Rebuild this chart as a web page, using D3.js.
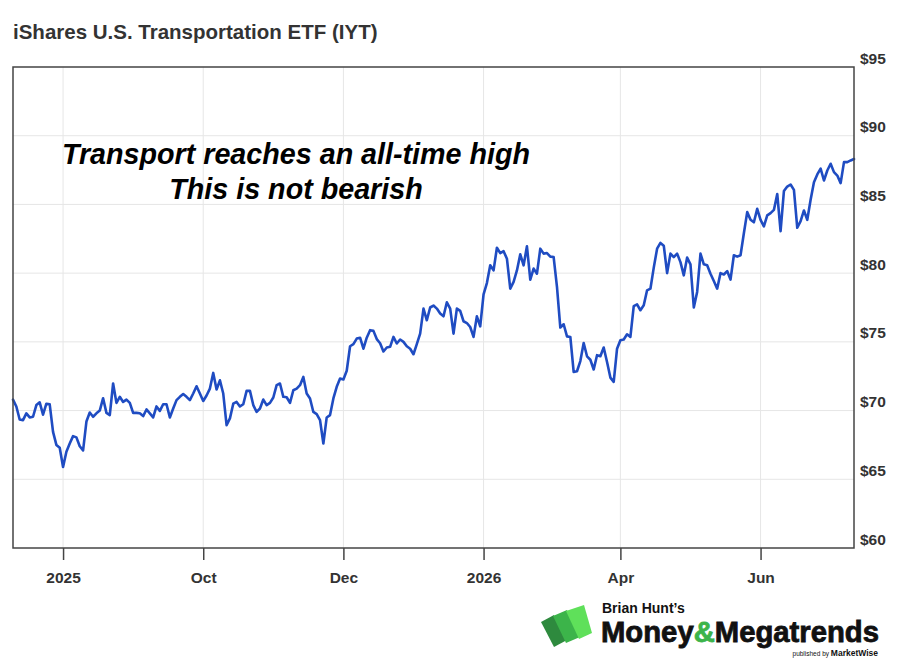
<!DOCTYPE html>
<html>
<head>
<meta charset="utf-8">
<script src="https://cdn.jsdelivr.net/npm/d3@7"></script>
<style>
  html, body { margin: 0; padding: 0; background: #fff; }
  svg { display: block; }
</style>
</head>
<body>
<svg id="chart" width="900" height="664"></svg>
<script>
// ---- Data (daily closes) ----
const title = "iShares U.S. Transportation ETF (IYT)";
const annotationLines = ["Transport reaches an all-time high", "This is not bearish"];
const prices = [
  70.8, 70.3, 69.35, 69.3, 69.8, 69.5, 69.55, 70.4, 70.6, 69.7,
  70.5, 70.45, 68.45, 67.5, 67.3, 65.9, 67.0, 67.6, 68.14, 68.05,
  67.4, 67.1, 69.2, 69.86, 69.55, 69.8, 70.0, 70.9, 69.83, 69.67,
  71.97, 70.56, 71.0, 70.63, 70.8, 70.56, 69.83, 69.83, 69.8, 69.6,
  70.08, 69.8, 69.5, 70.3, 69.98, 70.46, 70.46, 69.5, 70.15, 70.76,
  71.0, 71.2, 71.0, 70.76, 71.24, 71.77, 71.24, 70.7, 71.1, 71.6,
  72.74, 71.53, 72.2, 71.24, 68.94, 69.43, 70.5, 70.63, 70.3, 70.46,
  71.43, 71.43, 70.4, 69.9, 70.15, 70.8, 70.4, 70.56, 70.95, 71.85,
  71.97, 71.0, 70.97, 70.56, 71.48, 71.6, 71.85, 72.45, 71.24, 70.88,
  69.9, 69.74, 69.3, 67.6, 69.5, 69.67, 70.88, 71.73, 72.33, 72.26,
  72.9, 74.68, 74.83, 75.24, 75.3, 74.5, 75.3, 75.85, 75.8, 75.2,
  74.9, 74.3, 74.59, 74.64, 75.36, 74.88, 75.17, 75.0, 74.68, 74.5,
  74.1, 74.83, 75.6, 77.42, 76.57, 77.5, 77.64, 77.42, 77.06, 76.86,
  77.88, 77.42, 75.6, 77.42, 77.25, 76.5, 76.37, 76.08, 75.36, 76.86,
  76.13, 78.46, 79.28, 80.57, 80.2, 81.85, 81.46, 81.6, 81.05, 78.87,
  79.36, 80.2, 81.37, 80.57, 81.95, 79.53, 80.33, 79.96, 81.78, 81.42,
  81.46, 81.2, 81.17, 79.0, 76.04, 76.28, 75.4, 75.36, 72.81, 72.86,
  73.6, 74.92, 73.95, 73.7, 72.99, 74.03, 73.95, 74.59, 73.54, 72.4,
  72.09, 74.5, 75.12, 75.17, 75.55, 75.36, 77.6, 77.73, 77.3, 77.66,
  78.75, 78.87, 80.4, 81.78, 82.2, 82.0, 80.0, 81.42, 81.17, 81.42,
  80.8, 79.84, 81.13, 80.64, 77.5, 78.63, 81.42, 80.64, 80.57, 79.96,
  79.43, 78.87, 80.0, 79.9, 80.15, 79.53, 81.3, 81.2, 81.3, 82.9,
  84.44, 83.88, 83.7, 84.68, 83.88, 83.4, 84.2, 84.37, 84.6, 85.76,
  83.06, 85.97, 86.3, 86.45, 86.06, 83.3, 83.79, 84.56, 83.88, 85.34,
  86.62, 87.18, 87.6, 86.74, 87.47, 87.96, 87.35, 87.1, 86.55, 88.08,
  88.08, 88.2, 88.3
];
const xTickIndex = [15, 57, 99, 141, 182, 224];
const xTickLabels = ["2025", "Oct", "Dec", "2026", "Apr", "Jun"];
const yTicks = [60, 65, 70, 75, 80, 85, 90, 95];
const logoSmall = "Brian Hunt\u2019s";
const logoWord1 = "Money";
const logoAmp = "&";
const logoWord2 = "Megatrends";

// ---- Layout ----
const svg = d3.select("#chart");
const plotLeft = 13, plotRight = 854, plotTop = 67, plotBottom = 548;
const font = "'Liberation Sans', Arial, Helvetica, sans-serif";

const x = d3.scaleLinear().domain([0, prices.length - 1]).range([plotLeft, plotRight]);
const y = d3.scaleLinear().domain([60, 95]).range([plotBottom, plotTop]);

// Title
svg.append("text")
  .attr("x", 13).attr("y", 39)
  .attr("font-family", font).attr("font-weight", "bold")
  .attr("font-size", 20.5).attr("fill", "#333")
  .text(title);

// Gridlines
const grid = svg.append("g");
grid.selectAll("line.h").data(yTicks.filter(d => d > 60 && d < 95)).join("line")
  .attr("class", "h")
  .attr("x1", plotLeft).attr("x2", plotRight)
  .attr("y1", d => y(d)).attr("y2", d => y(d))
  .attr("stroke", "#e6e6e6").attr("stroke-width", 1);
grid.selectAll("line.v").data(xTickIndex).join("line")
  .attr("class", "v")
  .attr("x1", d => x(d)).attr("x2", d => x(d))
  .attr("y1", plotTop).attr("y2", plotBottom)
  .attr("stroke", "#e6e6e6").attr("stroke-width", 1);

// Annotation
const ann = svg.append("text")
  .attr("font-family", font).attr("font-weight", "bold").attr("font-style", "italic")
  .attr("font-size", 28.7).attr("fill", "#000").attr("text-anchor", "middle");
annotationLines.forEach((t, i) => {
  ann.append("tspan").attr("x", 296).attr("y", 164 + i * 35).text(t);
});

// Line
const line = d3.line().x((d, i) => x(i)).y(d => y(d));
svg.append("path")
  .datum(prices)
  .attr("d", line)
  .attr("fill", "none")
  .attr("stroke", "#1f4cc2")
  .attr("stroke-width", 2.6)
  .attr("stroke-linejoin", "round")
  .attr("stroke-linecap", "round");

// Frame
svg.append("rect")
  .attr("x", plotLeft).attr("y", plotTop)
  .attr("width", plotRight - plotLeft).attr("height", plotBottom - plotTop)
  .attr("fill", "none").attr("stroke", "#444").attr("stroke-width", 1.5);

// X axis
const xAxis = d3.axisBottom(x)
  .tickValues(xTickIndex)
  .tickFormat((d, i) => xTickLabels[i])
  .tickSize(12).tickPadding(12);
const gx = svg.append("g").attr("transform", `translate(0,${plotBottom})`).call(xAxis);
gx.select(".domain").remove();
gx.selectAll(".tick line").attr("stroke", "#444").attr("stroke-width", 1.5);
gx.selectAll(".tick text")
  .attr("font-family", font).attr("font-weight", "bold")
  .attr("font-size", 15.5).attr("fill", "#333");

// Y axis (right)
const yAxis = d3.axisRight(y).tickValues(yTicks).tickFormat(d => "$" + d).tickSize(0).tickPadding(6);
const gy = svg.append("g").attr("transform", `translate(${plotRight},0)`).call(yAxis);
gy.select(".domain").remove();
gy.selectAll(".tick text")
  .attr("font-family", font).attr("font-weight", "bold")
  .attr("font-size", 15.5).attr("fill", "#333")
  .attr("dy", "-0.25em");

// Logo
const logo = svg.append("g");
const barShapes = [
  {pts: [[541,622],[554,615],[567,640],[554,647]], c: "#2e8a3e"},
  {pts: [[553,616],[567,610],[580,637],[566,643]], c: "#3cb44a"},
  {pts: [[566,611],[584,605],[592,633],[579,639]], c: "#5fe05a"}
];
logo.selectAll("polygon").data(barShapes).join("polygon")
  .attr("points", d => d.pts.map(p => p.join(",")).join(" "))
  .attr("fill", d => d.c);
logo.append("text").attr("x", 602).attr("y", 613)
  .attr("font-family", font).attr("font-weight", "bold")
  .attr("font-size", 14).attr("fill", "#111").text(logoSmall);
const big = logo.append("text").attr("x", 601).attr("y", 642)
  .attr("font-family", font).attr("font-weight", "bold")
  .attr("font-size", 29).attr("fill", "#111")
  .attr("stroke", "#111").attr("stroke-width", 0.8)
  .attr("textLength", 278).attr("lengthAdjust", "spacingAndGlyphs");
big.append("tspan").text(logoWord1);
big.append("tspan").attr("fill", "#3cb44a").attr("stroke", "#3cb44a").text(logoAmp);
big.append("tspan").text(logoWord2);
const sub = logo.append("text").attr("x", 878).attr("y", 656).attr("text-anchor", "end")
  .attr("font-family", font).attr("fill", "#111");
sub.append("tspan").attr("font-size", 6.5).text("published by ");
sub.append("tspan").attr("font-size", 8.5).attr("font-weight", "bold").text("MarketWise");
</script>
</body>
</html>
